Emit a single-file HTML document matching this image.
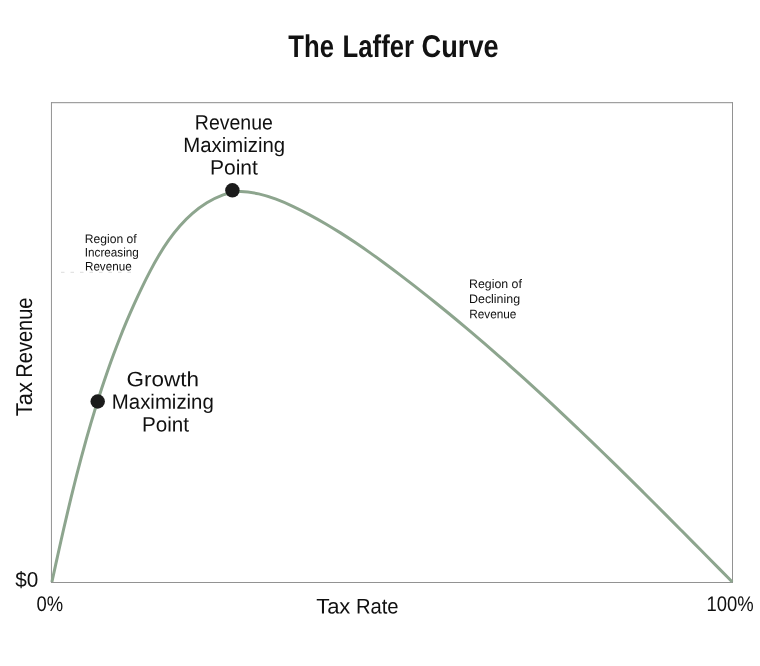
<!DOCTYPE html>
<html lang="en">
<head>
<meta charset="utf-8">
<title>The Laffer Curve</title>
<style>
html,body{margin:0;padding:0;background:#fff;}
body{width:760px;height:666px;overflow:hidden;}
svg{display:block;}
text{text-rendering:geometricPrecision;font-family:"Liberation Sans",sans-serif;fill:#101010;stroke:#101010;stroke-width:0;}
.t{font-weight:bold;fill:#121212;stroke:none;}
</style>
</head>
<body>
<svg width="760" height="666" viewBox="0 0 760 666">
<rect x="0" y="0" width="760" height="666" fill="#ffffff"/>
<g stroke="#929292" stroke-width="1" fill="none">
<line x1="51" y1="102.7" x2="733" y2="102.7" stroke="#8a8a8a"/>
<line x1="51.45" y1="102.2" x2="51.45" y2="583"/>
<line x1="732.5" y1="102.2" x2="732.5" y2="583"/>
<line x1="51" y1="582.5" x2="733" y2="582.5"/>
</g>
<line x1="61" y1="272.3" x2="137" y2="272.3" stroke="#dcdcdc" stroke-width="1" stroke-dasharray="3.5 6"/>
<path d="M51.90 582.00 C53.17 576.13 54.45 570.25 55.74 564.37 C57.03 558.48 58.33 552.59 59.65 546.70 C60.97 540.80 62.30 534.90 63.66 529.01 C65.01 523.11 66.39 517.21 67.78 511.31 C69.18 505.42 70.60 499.52 72.04 493.63 C73.49 487.75 74.96 481.86 76.46 475.99 C77.96 470.11 79.49 464.24 81.05 458.39 C82.62 452.53 84.21 446.68 85.84 440.85 C87.47 435.02 89.14 429.20 90.85 423.40 C92.55 417.60 94.30 411.82 96.09 406.05 C97.88 400.29 99.71 394.54 101.58 388.82 C103.46 383.10 105.38 377.40 107.36 371.72 C109.33 366.05 111.35 360.39 113.44 354.76 C115.52 349.13 117.66 343.52 119.86 337.93 C122.07 332.33 124.34 326.76 126.68 321.20 C129.02 315.64 131.43 310.10 133.92 304.58 C136.41 299.05 138.98 293.54 141.63 288.04 C144.29 282.54 147.02 277.04 149.87 271.60 C152.72 266.15 155.68 260.77 158.81 255.52 C161.94 250.26 165.23 245.13 168.72 240.20 C172.22 235.27 175.92 230.52 179.86 226.05 C183.81 221.57 188.00 217.35 192.48 213.46 C196.97 209.57 201.74 206.00 206.85 202.84 C211.96 199.67 217.42 196.84 223.12 194.81 C228.82 192.77 234.76 191.57 240.77 191.59 C246.79 191.61 252.82 192.58 258.70 193.90 C264.59 195.23 270.36 197.03 276.05 199.14 C281.73 201.26 287.32 203.70 292.83 206.31 C298.34 208.92 303.77 211.70 309.12 214.56 C314.48 217.42 319.77 220.39 325.00 223.44 C330.22 226.50 335.39 229.65 340.50 232.88 C345.60 236.11 350.66 239.42 355.67 242.80 C360.68 246.17 365.64 249.61 370.56 253.11 C375.49 256.60 380.37 260.15 385.23 263.74 C390.09 267.33 394.91 270.96 399.72 274.62 C404.52 278.27 409.31 281.96 414.07 285.67 C418.83 289.38 423.58 293.11 428.30 296.88 C433.02 300.64 437.72 304.43 442.40 308.24 C447.09 312.05 451.75 315.88 456.40 319.74 C461.04 323.60 465.67 327.48 470.28 331.38 C474.89 335.29 479.48 339.21 484.05 343.15 C488.63 347.10 493.19 351.06 497.73 355.05 C502.27 359.03 506.80 363.04 511.31 367.06 C515.82 371.08 520.32 375.12 524.80 379.17 C529.28 383.23 533.75 387.30 538.20 391.39 C542.66 395.48 547.10 399.59 551.53 403.71 C555.96 407.82 560.37 411.96 564.78 416.11 C569.18 420.25 573.57 424.41 577.95 428.59 C582.33 432.76 586.70 436.94 591.06 441.14 C595.42 445.33 599.77 449.54 604.11 453.76 C608.45 457.97 612.78 462.20 617.10 466.43 C621.43 470.67 625.74 474.91 630.04 479.16 C634.35 483.41 638.65 487.67 642.94 491.94 C647.23 496.20 651.51 500.47 655.79 504.75 C660.07 509.02 664.34 513.30 668.61 517.59 C672.87 521.87 677.13 526.16 681.39 530.45 C685.65 534.74 689.90 539.04 694.15 543.33 C698.39 547.63 702.64 551.92 706.88 556.22 C711.12 560.52 715.36 564.82 719.60 569.11 C723.83 573.41 728.07 577.70 732.30 582.00" fill="none" stroke="#8da58e" stroke-width="3" stroke-linejoin="round" stroke-linecap="butt"/>
<circle cx="232.4" cy="190.3" r="7.2" fill="#1b1b1b"/>
<circle cx="97.7" cy="401.5" r="7.2" fill="#1b1b1b"/>
<text class="t" y="56.8" font-size="31.4"><tspan x="288.36" textLength="45.67" lengthAdjust="spacingAndGlyphs">The</tspan> <tspan x="342.56" textLength="71.46" lengthAdjust="spacingAndGlyphs">Laffer</tspan> <tspan x="421.62" textLength="77.06" lengthAdjust="spacingAndGlyphs">Curve</tspan></text>
<text transform="rotate(0.03 194.9 129.5)" x="194.87" y="129.5" font-size="20.8" stroke-width="0.5" textLength="78.03" lengthAdjust="spacingAndGlyphs">Revenue</text>
<text transform="rotate(0.03 183.3 151.9)" x="183.27" y="151.9" font-size="20.8" stroke-width="0.5" textLength="101.80" lengthAdjust="spacingAndGlyphs">Maximizing</text>
<text transform="rotate(0.03 210.0 174.6)" x="210.02" y="174.6" font-size="20.8" stroke-width="0.5" textLength="47.83" lengthAdjust="spacingAndGlyphs">Point</text>
<text transform="rotate(0.03 126.5 386.2)" x="126.51" y="386.2" font-size="20.8" stroke-width="0.5" textLength="72.40" lengthAdjust="spacingAndGlyphs">Growth</text>
<text transform="rotate(0.03 111.8 408.7)" x="111.84" y="408.7" font-size="20.8" stroke-width="0.5" textLength="101.98" lengthAdjust="spacingAndGlyphs">Maximizing</text>
<text transform="rotate(0.03 142.0 431.4)" x="142.04" y="431.4" font-size="20.8" stroke-width="0.5" textLength="47.03" lengthAdjust="spacingAndGlyphs">Point</text>
<text transform="rotate(0.03 84.9 242.9)" x="84.87" y="242.9" font-size="12.4" stroke-width="0.5" textLength="51.83" lengthAdjust="spacingAndGlyphs">Region of</text>
<text transform="rotate(0.03 84.8 256.6)" x="84.80" y="256.6" font-size="12.4" stroke-width="0.5" textLength="53.98" lengthAdjust="spacingAndGlyphs">Increasing</text>
<text transform="rotate(0.03 85.0 270.5)" x="84.98" y="270.5" font-size="12.4" stroke-width="0.5" textLength="46.67" lengthAdjust="spacingAndGlyphs">Revenue</text>
<text transform="rotate(0.03 469.0 287.9)" x="469.02" y="287.9" font-size="12.4" stroke-width="0.5" textLength="52.91" lengthAdjust="spacingAndGlyphs">Region of</text>
<text transform="rotate(0.03 469.0 302.9)" x="469.01" y="302.9" font-size="12.4" stroke-width="0.7" textLength="51.12" lengthAdjust="spacingAndGlyphs">Declining</text>
<text transform="rotate(0.03 469.1 318.2)" x="469.13" y="318.2" font-size="12.4" stroke-width="0.5" textLength="47.33" lengthAdjust="spacingAndGlyphs">Revenue</text>
<text transform="rotate(0.03 15.3 586.8)" x="15.32" y="586.8" font-size="21.2" stroke-width="0.5" textLength="23.05" lengthAdjust="spacingAndGlyphs">$0</text>
<text transform="rotate(0.03 36.5 610.5)" x="36.46" y="610.5" font-size="21.2" stroke-width="0.5" textLength="26.62" lengthAdjust="spacingAndGlyphs">0%</text>
<text transform="rotate(0.03 706.5 611.3)" x="706.45" y="611.3" font-size="21.2" stroke-width="0.5" textLength="47.14" lengthAdjust="spacingAndGlyphs">100%</text>
<text transform="rotate(0.03 350 613.5)" y="613.5" font-size="21.2" stroke-width="0.5"><tspan x="316.15" textLength="34.25" lengthAdjust="spacingAndGlyphs">Tax</tspan> <tspan x="355.92" textLength="42.69" lengthAdjust="spacingAndGlyphs">Rate</tspan></text>
<text transform="translate(31.8 415.7) rotate(-90)" y="0" font-size="22.9" stroke-width="0.4"><tspan x="-0.6" textLength="34.2" lengthAdjust="spacingAndGlyphs">Tax</tspan> <tspan x="38.0" textLength="80.2" lengthAdjust="spacingAndGlyphs">Revenue</tspan></text>
</svg>
</body>
</html>
